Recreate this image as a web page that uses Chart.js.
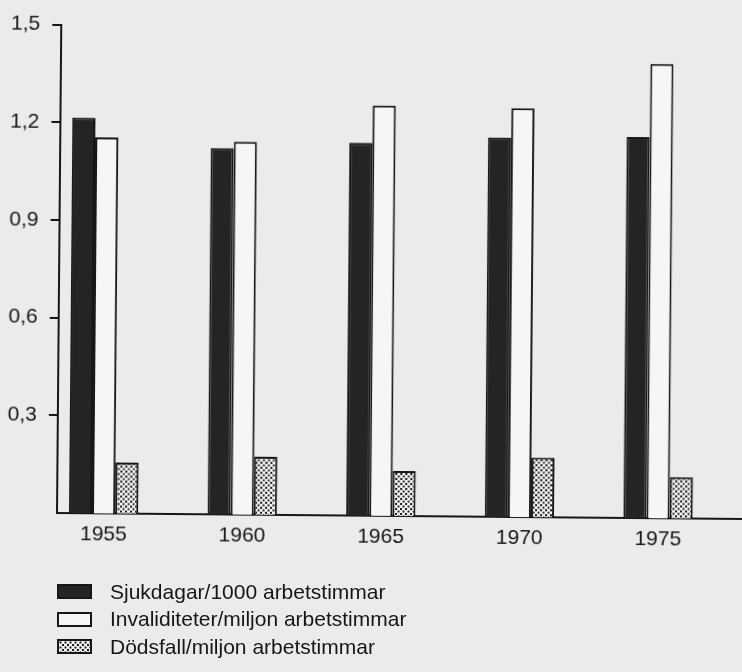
<!DOCTYPE html>
<html>
<head>
<meta charset="utf-8">
<script src="https://cdn.jsdelivr.net/npm/chart.js@4/dist/chart.umd.min.js"></script>
<style>
  html, body { margin: 0; padding: 0; background: #ebebea; }
  #wrap { position: relative; width: 742px; height: 672px; overflow: hidden;
          font-family: "Liberation Sans", Arial, sans-serif; color: #161616; }
  #plot { position: absolute; left: 0; top: 0; width: 742px; height: 560px;
          transform: rotate(0.5deg); transform-origin: 57px 513px; }
  #legend { position: absolute; left: 57px; top: 578px; }
  .row { display: flex; align-items: center; height: 27.5px; }
  .row canvas { margin-right: 18px; }
  .row span { font-size: 21px; }
</style>
</head>
<body>
<div id="wrap">
  <div id="plot"><canvas id="chart" width="742" height="560"></canvas></div>
  <div id="legend"></div>
</div>
<script>
// ─── DATA ─────────────────────────────────────────────────────
const years         = [1955, 1960, 1965, 1970, 1975];
const sjukdagar     = [1.215, 1.125, 1.145, 1.165, 1.17];
const invaliditeter = [1.155, 1.145, 1.26, 1.255, 1.395];
const dodsfall      = [0.157, 0.178, 0.138, 0.183, 0.127];
const yTicks        = [0.3, 0.6, 0.9, 1.2, 1.5];
const seriesLabels  = ['Sjukdagar/1000 arbetstimmar',
                       'Invaliditeter/miljon arbetstimmar',
                       'Dödsfall/miljon arbetstimmar'];

const INK  = '#161616';
const FONT = { family: '"Liberation Sans", Arial, sans-serif', size: 21 };

// dotted fill like the print raster
function dotPattern() {
    const c = document.createElement('canvas');
    c.width = 5; c.height = 5;
    const g = c.getContext('2d');
    g.fillStyle = '#f4f4f2';
    g.fillRect(0, 0, 5, 5);
    g.fillStyle = '#1c1c1c';
    g.fillRect(0, 0, 2, 2);
    g.fillRect(2.5, 2.5, 2, 2);
    return g.createPattern(c, 'repeat');
}
const dots = dotPattern();

const fills = ['#262323', '#f6f6f5', dots];
const toXY = vals => years.map((y, i) => ({ x: y, y: vals[i] }));

// ─── CHART ────────────────────────────────────────────────────
const chart = new Chart(document.getElementById('chart'), {
    type: 'bar',
    data: {
        datasets: [sjukdagar, invaliditeter, dodsfall].map((vals, i) => ({
            label: seriesLabels[i],
            data: toXY(vals),
            backgroundColor: fills[i],
            borderColor: INK,
            borderWidth: 2
        }))
    },
    options: {
        responsive: false,
        animation: false,
        layout: { padding: { top: 23, right: 0, left: 0, bottom: 0 } },
        plugins: { legend: { display: false }, tooltip: { enabled: false } },
        datasets: { bar: { categoryPercentage: 0.5, barPercentage: 1.0 } },
        scales: {
            x: {
                type: 'linear', min: 1953.32, max: 1978.03, offset: false,
                grid: { display: false, drawTicks: false },
                border: { display: true, color: INK, width: 2 },
                afterBuildTicks: s => { s.ticks = years.map(v => ({ value: v })); },
                ticks: { color: INK, font: FONT, padding: 9, autoSkip: false, maxRotation: 0,
                         callback: v => String(v) },
                afterFit: s => { s.height = 47; }
            },
            y: {
                min: 0, max: 1.5,
                grid: { display: true, drawOnChartArea: false, drawTicks: true,
                        tickLength: 9, color: INK, lineWidth: 2 },
                border: { display: true, color: INK, width: 2 },
                afterBuildTicks: s => { s.ticks = yTicks.map(v => ({ value: v })); },
                ticks: { color: INK, font: FONT, padding: 12,
                         callback: v => v.toFixed(1).replace('.', ',') },
                afterFit: s => { s.width = 57; }
            }
        }
    }
});

// ─── LEGEND (one item per row, below the plot) ────────────────
const legend = document.getElementById('legend');
chart.data.datasets.forEach(ds => {
    const row = document.createElement('div');
    row.className = 'row';
    const sw = document.createElement('canvas');
    sw.width = 35; sw.height = 15;
    const g = sw.getContext('2d');
    g.fillStyle = ds.backgroundColor;
    g.fillRect(0, 0, 35, 15);
    g.strokeStyle = INK;
    g.lineWidth = 2;
    g.strokeRect(1, 1, 33, 13);
    const txt = document.createElement('span');
    txt.textContent = ds.label;
    row.appendChild(sw);
    row.appendChild(txt);
    legend.appendChild(row);
});
</script>
</body>
</html>
